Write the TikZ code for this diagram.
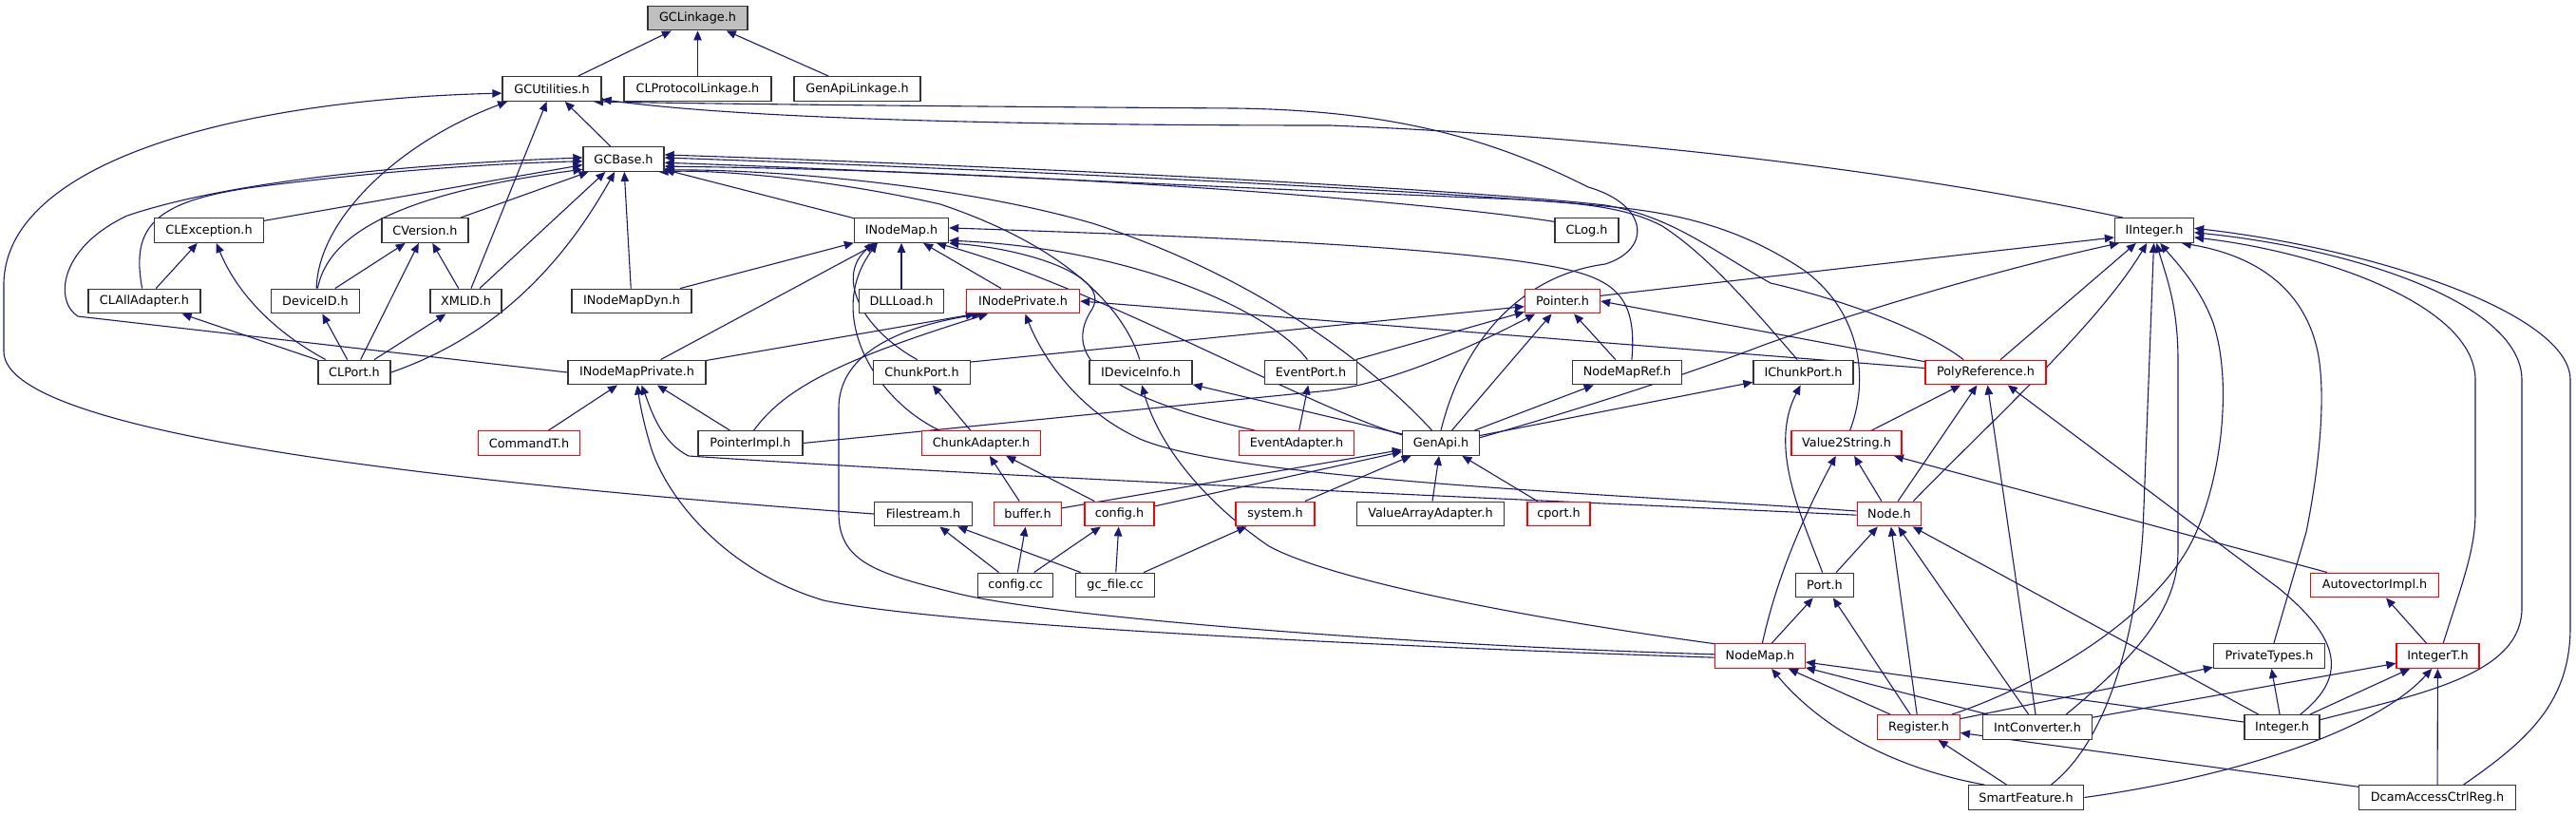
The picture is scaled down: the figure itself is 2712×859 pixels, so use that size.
\documentclass[tikz,border=0pt]{standalone}
\usepackage{fontspec}
\setmainfont{DejaVu Sans}
\usetikzlibrary{arrows.meta}
\definecolor{edgecol}{HTML}{191970}
\definecolor{boxgray}{HTML}{BFBFBF}
\definecolor{boxred}{HTML}{FF0000}
\pgfdeclarelayer{edges}
\pgfsetlayers{edges,main}
\begin{document}
\begin{tikzpicture}[x=1pt,y=-1pt,
  box/.style={draw=black!80,line width=1.3pt,fill=white,minimum height=25.6pt,inner sep=0pt,
    font=\fontsize{12.8}{14}\selectfont},
  redbox/.style={box,draw=boxred},
  dep/.style={draw=edgecol,line width=1.1pt,-{Triangle[length=10pt,width=8.5pt]}}]
\useasboundingbox (0,0) rectangle (2712,859);
% row 0
\node[box,fill=boxgray,minimum width=105pt] (gclinkage) at (734.5,19) {GCLinkage.h};
% row 1
\node[box,minimum width=104pt] (gcutil) at (581,93.5) {GCUtilities.h};
\node[box,minimum width=155pt] (clproto) at (734.5,93.5) {CLProtocolLinkage.h};
\node[box,minimum width=133pt] (genapilink) at (902.5,93.5) {GenApiLinkage.h};
% row 2
\node[box,minimum width=85pt] (gcbase) at (656.5,167.5) {GCBase.h};
% row 3
\node[box,minimum width=114.5pt] (clexc) at (220,242.5) {CLException.h};
\node[box,minimum width=91pt] (cversion) at (447.5,242.5) {CVersion.h};
\node[box,minimum width=99pt] (inodemap) at (949,242.5) {INodeMap.h};
\node[box,minimum width=67pt] (clog) at (1670.5,242.5) {CLog.h};
\node[box,minimum width=83pt] (iinteger) at (2268,242.5) {IInteger.h};
% row 4
\node[box,minimum width=118pt] (clall) at (152,317) {CLAllAdapter.h};
\node[box,minimum width=93.6pt] (deviceid) at (332,317) {DeviceID.h};
\node[box,minimum width=75pt] (xmlid) at (490.5,317) {XMLID.h};
\node[box,minimum width=126pt] (inodemapdyn) at (665,317) {INodeMapDyn.h};
\node[box,minimum width=89.5pt] (dllload) at (949,317) {DLLLoad.h};
\node[redbox,minimum width=119pt] (inodepriv) at (1077,317) {INodePrivate.h};
\node[redbox,minimum width=79pt] (pointer) at (1645,317) {Pointer.h};
% row 5
\node[box,minimum width=76pt] (clport) at (373,392) {CLPort.h};
\node[box,minimum width=145pt] (inmpriv) at (670.5,392) {INodeMapPrivate.h};
\node[box,minimum width=102pt] (chunkport) at (970.5,392) {ChunkPort.h};
\node[box,minimum width=108pt] (idevinfo) at (1201,392) {IDeviceInfo.h};
\node[box,minimum width=97pt] (eventport) at (1380,392) {EventPort.h};
\node[box,minimum width=114.5pt] (nodemapref) at (1713,392) {NodeMapRef.h};
\node[box,minimum width=105pt] (ichunkport) at (1898.5,392) {IChunkPort.h};
\node[redbox,minimum width=127pt] (polyref) at (2090.5,392) {PolyReference.h};
% row 6
\node[redbox,minimum width=107pt] (commandt) at (557,466.5) {CommandT.h};
\node[box,minimum width=110pt] (pointerimpl) at (790,466.5) {PointerImpl.h};
\node[redbox,minimum width=125.4pt] (chunkadapter) at (1033,466.5) {ChunkAdapter.h};
\node[redbox,minimum width=121.4pt] (eventadapter) at (1365,466.5) {EventAdapter.h};
\node[box,minimum width=81pt] (genapi) at (1517,466.5) {GenApi.h};
\node[redbox,minimum width=116pt] (value2string) at (1944,466.5) {Value2String.h};
% row 7
\node[box,minimum width=102.7pt] (filestream) at (972,541) {Filestream.h};
\node[redbox,minimum width=70.5pt] (bufferh) at (1082,541) {buffer.h};
\node[redbox,minimum width=73pt] (configh) at (1178.5,541) {config.h};
\node[redbox,minimum width=83pt] (systemh) at (1342.5,541) {system.h};
\node[box,minimum width=154.7pt] (valuearray) at (1506,541) {ValueArrayAdapter.h};
\node[redbox,minimum width=66pt] (cporth) at (1641,541) {cport.h};
\node[redbox,minimum width=67.5pt] (nodeh) at (1989,541) {Node.h};
% row 8
\node[box,minimum width=78.6pt] (configcc) at (1069,616) {config.cc};
\node[box,minimum width=82.7pt] (gcfile) at (1174,616) {gc\_file.cc};
\node[box,minimum width=60.5pt] (porth) at (1921,616) {Port.h};
\node[redbox,minimum width=134.5pt] (autovec) at (2500,616) {AutovectorImpl.h};
% row 9
\node[redbox,minimum width=94.6pt] (nodemap) at (1853,690.5) {NodeMap.h};
\node[box,minimum width=117pt] (privtypes) at (2389,690.5) {PrivateTypes.h};
\node[redbox,minimum width=87pt] (integert) at (2566.5,690.5) {IntegerT.h};
% row 10
\node[redbox,minimum width=86.5pt] (registerh) at (2020,765.5) {Register.h};
\node[box,minimum width=114.6pt] (intconv) at (2145,765.5) {IntConverter.h};
\node[box,minimum width=79pt] (integerh) at (2402.5,765.5) {Integer.h};
% row 11
\node[box,minimum width=121.3pt] (smartfeat) at (2133,839.5) {SmartFeature.h};
\node[box,minimum width=164.6pt] (dcam) at (2566,839.5) {DcamAccessCtrlReg.h};

\begin{pgfonlayer}{edges}
% GCLinkage
\draw[dep] (gcutil) -- (gclinkage);
\draw[dep] (clproto) -- (gclinkage);
\draw[dep] (genapilink) -- (gclinkage);
% GCUtilities
\draw[dep] (gcbase) -- (gcutil);
\draw[dep] (filestream.west) .. controls (500,510) and (4,460) .. (4,370) -- (4,300) .. controls (4,170) and (250,105) .. (gcutil.185);
\draw[dep] (deviceid.85) .. controls (335,230) and (420,150) .. (gcutil.196);
\draw[dep] (xmlid) -- (gcutil);
\draw[dep] (genapi.north) .. controls (1540,360) and (1600,290) .. (1690,278) .. controls (1740,262) and (1735,215) .. (1672,197) .. controls (1560,140) and (1450,116) .. (1300,114) .. controls (1000,112) and (800,110) .. (gcutil.343);
\draw[dep] (iinteger.158) .. controls (2100,200) and (1800,148) .. (1400,132) .. controls (1000,132) and (760,122) .. (gcutil.348);
% GCBase
\draw[dep] (clexc) -- (gcbase.188);
\draw[dep] (cversion) -- (gcbase.200);
\draw[dep] (clall.100) .. controls (138,240) and (160,212) .. (268,197) .. controls (400,180) and (520,172) .. (gcbase.183);
\draw[dep] (inmpriv.west) -- (82,333) .. controls (58,318) and (60,262) .. (134,227) .. controls (250,188) and (450,172) .. (gcbase.178);
\draw[dep] (deviceid.80) .. controls (345,250) and (410,205) .. (gcbase.194);
\draw[dep] (xmlid) -- (gcbase.215);
\draw[dep] (clport.east) .. controls (490,365) and (575,310) .. (gcbase.235);
\draw[dep] (inodemapdyn) -- (gcbase);
\draw[dep] (inodemap) -- (gcbase);
\draw[dep] (clog.165) .. controls (1500,212) and (1100,180) .. (gcbase.350);
\draw[dep] (genapi.125) .. controls (1440,380) and (1320,290) .. (1150,235) .. controls (1000,192) and (800,178) .. (gcbase.345);
\draw[dep] (idevinfo.95) .. controls (1185,330) and (1130,262) .. (990,215) .. controls (880,190) and (760,178) .. (gcbase.340);
\draw[dep] (ichunkport.115) .. controls (1850,330) and (1800,270) .. (1750,238) .. controls (1720,222) and (1680,214) .. (1600,210) .. controls (1300,198) and (900,178) .. (gcbase.355);
\draw[dep] (value2string.75) .. controls (1968,400) and (1960,330) .. (1900,285) .. controls (1840,245) and (1780,226) .. (1700,218) .. controls (1550,203) and (1100,180) .. (gcbase.2);
\draw[dep] (polyref.150) .. controls (2030,350) and (1950,318) .. (1864,298) .. controls (1800,262) and (1760,228) .. (1690,216) .. controls (1550,200) and (1100,176) .. (gcbase.6);
% CLException / CVersion / CLPort
\draw[dep] (clall) -- (clexc);
\draw[dep] (clport.156) .. controls (290,350) and (250,310) .. (clexc.300);
\draw[dep] (deviceid) -- (cversion);
\draw[dep] (clport) -- (cversion);
\draw[dep] (xmlid) -- (cversion);
\draw[dep] (clport) -- (clall);
\draw[dep] (clport) -- (deviceid);
\draw[dep] (clport) -- (xmlid);
% INodeMap
\draw[dep] (inodemapdyn) -- (inodemap);
\draw[dep] (inmpriv) -- (inodemap);
\draw[dep] (dllload) -- (inodemap);
\draw[dep] (inodepriv) -- (inodemap);
\draw[dep] (chunkport.110) .. controls (905,345) and (880,290) .. (inodemap.205);
\draw[dep] (chunkadapter.163) .. controls (920,420) and (868,330) .. (inodemap.208);
\draw[dep] (eventport.105) .. controls (1340,330) and (1200,262) .. (inodemap.348);
\draw[dep] (genapi.168) .. controls (1380,430) and (1150,300) .. (inodemap.340);
\draw[dep] (nodemapref.70) .. controls (1725,300) and (1690,288) .. (1600,275) .. controls (1450,255) and (1200,247) .. (inodemap.3);
\draw[dep] (eventadapter.163) .. controls (1150,415) and (1120,370) .. (1150,325) .. controls (1170,290) and (1080,262) .. (inodemap.345);
% INodePrivate
\draw[dep] (inmpriv) -- (inodepriv.195);
\draw[dep] (pointerimpl.75) .. controls (825,410) and (880,380) .. (inodepriv.200);
\draw[dep] (nodemap.178) .. controls (1500,680) and (1100,650) .. (1001,623) .. controls (920,603) and (883,590) .. (883,540) -- (883,430) .. controls (883,375) and (940,345) .. (inodepriv.197);
\draw[dep] (nodeh.175) .. controls (1700,520) and (1300,505) .. (1200,462) .. controls (1130,430) and (1095,370) .. (inodepriv.280);
\draw[dep] (polyref.176) -- (inodepriv.east);
% INodeMapPrivate
\draw[dep] (commandt) -- (inmpriv);
\draw[dep] (pointerimpl) -- (inmpriv);
\draw[dep] (nodemap.182) .. controls (1500,682) and (1000,660) .. (867,632) .. controls (760,600) and (700,520) .. (685,470) .. controls (676,440) and (673,420) .. (inmpriv.272);
\draw[dep] (nodeh.182) .. controls (1700,530) and (1100,505) .. (725,480) .. controls (695,465) and (685,430) .. (inmpriv.290);
% ChunkPort / Pointer
\draw[dep] (chunkadapter) -- (chunkport);
\draw[dep] (chunkport.12) -- (pointer.188);
\draw[dep] (eventport) -- (pointer);
\draw[dep] (pointerimpl.east) -- (1400,411) .. controls (1470,402) and (1560,360) .. (pointer.205);
\draw[dep] (genapi) -- (pointer);
\draw[dep] (nodemapref) -- (pointer);
\draw[dep] (polyref.170) -- (pointer.east);
\draw[dep] (pointer.8) -- (iinteger.190);
% EventPort / IDeviceInfo / NodeMapRef / IChunkPort
\draw[dep] (eventadapter) -- (eventport);
\draw[dep] (genapi) -- (idevinfo);
\draw[dep] (nodemap.165) .. controls (1600,650) and (1400,610) .. (1336,575) .. controls (1270,530) and (1220,470) .. (idevinfo.275);
\draw[dep] (genapi) -- (nodemapref);
\draw[dep] (genapi) -- (ichunkport);
\draw[dep] (genapi.8) .. controls (1700,420) and (1800,385) .. (1860,362) .. controls (1980,320) and (2120,280) .. (iinteger.200);
% GenApi children
\draw[dep] (bufferh) -- (genapi);
\draw[dep] (configh) -- (genapi);
\draw[dep] (systemh) -- (genapi);
\draw[dep] (valuearray) -- (genapi);
\draw[dep] (cporth) -- (genapi);
\draw[dep] (bufferh) -- (chunkadapter);
\draw[dep] (configh) -- (chunkadapter);
% sources
\draw[dep] (configcc) -- (filestream);
\draw[dep] (gcfile) -- (filestream);
\draw[dep] (configcc) -- (bufferh);
\draw[dep] (configcc) -- (configh);
\draw[dep] (gcfile) -- (configh);
\draw[dep] (gcfile) -- (systemh);
% IChunkPort / Value2String / PolyReference
\draw[dep] (porth.100) .. controls (1895,540) and (1862,470) .. (ichunkport.258);
\draw[dep] (nodemap.80) .. controls (1868,620) and (1890,560) .. (value2string.230);
\draw[dep] (nodeh) -- (value2string);
\draw[dep] (autovec) -- (value2string);
\draw[dep] (value2string) -- (polyref);
\draw[dep] (nodeh) -- (polyref);
\draw[dep] (intconv) -- (polyref);
\draw[dep] (integerh.35) .. controls (2475,710) and (2460,670) .. (2400,620) -- (polyref.330);
\draw[dep] (polyref) -- (iinteger.215);
% Node
\draw[dep] (porth) -- (nodeh);
\draw[dep] (registerh) -- (nodeh);
\draw[dep] (intconv) -- (nodeh);
\draw[dep] (integerh) -- (nodeh);
\draw[dep] (nodeh.28) .. controls (2100,440) and (2210,340) .. (iinteger.240);
% Port / NodeMap
\draw[dep] (nodemap) -- (porth);
\draw[dep] (registerh) -- (porth);
\draw[dep] (registerh) -- (nodemap);
\draw[dep] (intconv) -- (nodemap);
\draw[dep] (integerh) -- (nodemap);
\draw[dep] (smartfeat.163) .. controls (2000,810) and (1920,770) .. (nodemap.312);
% lower right
\draw[dep] (smartfeat) -- (registerh);
\draw[dep] (dcam) -- (registerh);
\draw[dep] (registerh) -- (privtypes);
\draw[dep] (integerh) -- (privtypes);
\draw[dep] (intconv) -- (integert);
\draw[dep] (integerh) -- (integert);
\draw[dep] (smartfeat.east) .. controls (2350,818) and (2500,770) .. (integert.245);
\draw[dep] (dcam) -- (integert);
\draw[dep] (integert) -- (autovec);
% IInteger children
\draw[dep] (smartfeat.27) .. controls (2225,775) and (2250,650) .. (2256,560) -- (iinteger.268);
\draw[dep] (intconv.24) .. controls (2250,690) and (2293,640) .. (2293,580) -- (2293,380) .. controls (2293,320) and (2280,290) .. (iinteger.280);
\draw[dep] (registerh.21) .. controls (2150,720) and (2270,650) .. (2310,565) .. controls (2340,500) and (2350,400) .. (2330,340) .. controls (2315,300) and (2290,275) .. (iinteger.295);
\draw[dep] (privtypes.70) -- (2428,560) .. controls (2440,500) and (2450,420) .. (2440,370) .. controls (2425,300) and (2370,268) .. (iinteger.335);
\draw[dep] (integert.67) .. controls (2590,620) and (2606,580) .. (2606,540) -- (2606,400) .. controls (2606,320) and (2440,265) .. (iinteger.350);
\draw[dep] (integerh.11) .. controls (2550,730) and (2655,710) .. (2655,640) -- (2655,400) .. controls (2655,320) and (2480,262) .. (iinteger.357);
\draw[dep] (dcam.26) .. controls (2660,780) and (2706,740) .. (2706,660) -- (2706,400) .. controls (2706,330) and (2500,262) .. (iinteger.3);
\end{pgfonlayer}
\end{tikzpicture}
\end{document}
